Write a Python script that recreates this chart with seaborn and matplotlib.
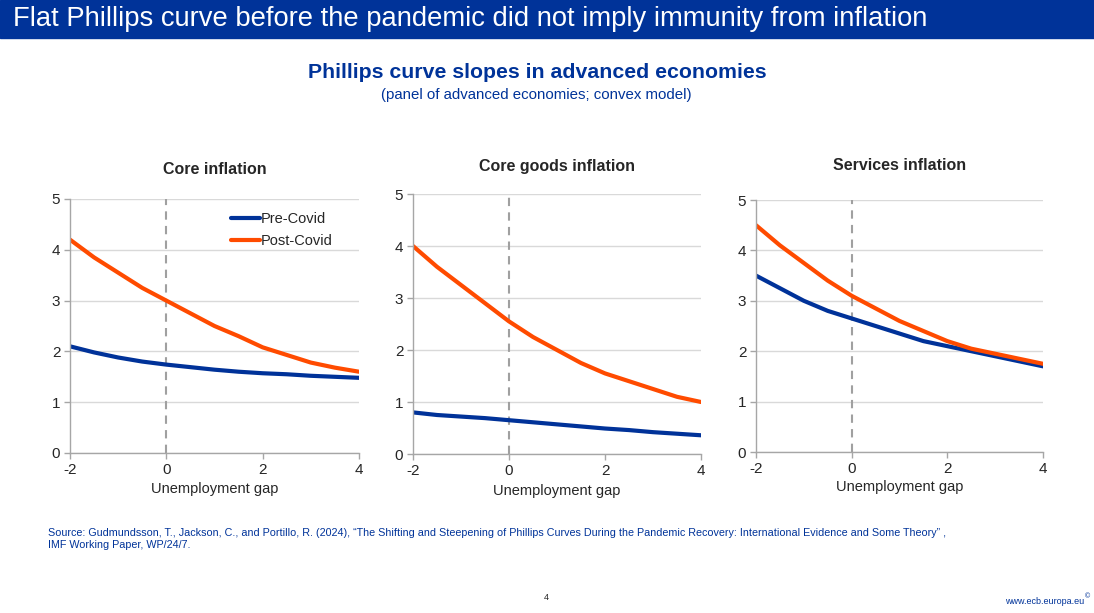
import numpy as np
import pandas as pd
import matplotlib
matplotlib.use("Agg")
import matplotlib.pyplot as plt
import seaborn as sns

# unemployment gap grid
gap = [-2, -1.5, -1, -0.5, 0, 0.5, 1, 1.5, 2, 2.5, 3, 3.5, 4]

# values
core_pre = [2.10, 1.98, 1.88, 1.80, 1.74, 1.69, 1.64, 1.60, 1.57, 1.55, 1.52, 1.50, 1.48]
core_post = [4.20, 3.85, 3.55, 3.25, 3.00, 2.75, 2.50, 2.30, 2.08, 1.93, 1.78, 1.68, 1.60]
goods_pre = [0.80, 0.75, 0.72, 0.69, 0.65, 0.61, 0.57, 0.53, 0.49, 0.46, 0.42, 0.39, 0.36]
goods_post = [4.00, 3.60, 3.25, 2.90, 2.55, 2.25, 2.00, 1.75, 1.55, 1.40, 1.25, 1.10, 1.00]
serv_pre = [3.50, 3.25, 3.00, 2.80, 2.65, 2.50, 2.35, 2.20, 2.10, 2.00, 1.90, 1.80, 1.70]
serv_post = [4.50, 4.10, 3.75, 3.40, 3.10, 2.85, 2.60, 2.40, 2.20, 2.05, 1.95, 1.85, 1.75]

panel_titles = ["Core inflation", "Core goods inflation", "Services inflation"]
series_names = ["Pre-Covid", "Post-Covid"]

BLUE = "#003299"
ORANGE = "#FF4B00"
BAR = "#003399"

sns.set_theme(style="white")
plt.rcParams['font.family'] = ['Liberation Sans', 'DejaVu Sans']
plt.rcParams['axes.unicode_minus'] = False

fig = plt.figure(figsize=(10.94, 6.13), dpi=100)

# title bar
fig.patches.append(plt.Rectangle((0, 1 - 38 / 613), 1, 38 / 613, transform=fig.transFigure,
                                 color=BAR, zorder=0))
fig.text(0.012, 1 - 19 / 613, "Flat Phillips curve before the pandemic did not imply immunity from inflation",
         color="white", fontsize=19.7, va="center", ha="left")

fig.text(537 / 1094, 1 - 73 / 613, "Phillips curve slopes in advanced economies", color=BAR,
         fontsize=15.3, fontweight="bold", ha="center", va="center")
fig.text(536 / 1094, 1 - 95 / 613, "(panel of advanced economies; convex model)", color=BAR,
         fontsize=10.8, ha="center", va="center")

# axes boxes in pixels: left, right, top (y=5), bottom (y=0), title y, xlabel y
boxes = [(70, 359, 199, 453, 169, 489),
         (413, 701, 194, 454, 166, 491),
         (756, 1043, 200, 452, 166, 487)]
data = [(core_pre, core_post), (goods_pre, goods_post), (serv_pre, serv_post)]

W, H = 1094, 613
for i, ((l, r, t, b, ty, xy), (pre, post)) in enumerate(zip(boxes, data)):
    ax = fig.add_axes([l / W, 1 - b / H, (r - l) / W, (b - t) / H])
    df = pd.DataFrame({
        "gap": gap * 2,
        "value": pre + post,
        "series": [series_names[0]] * len(gap) + [series_names[1]] * len(gap),
    })
    sns.lineplot(data=df, x="gap", y="value", hue="series", palette=[BLUE, ORANGE],
                 linewidth=3, ax=ax, legend=(i == 0))
    ax.axvline(0, color="#A0A0A0", linestyle=(0, (4, 3)), linewidth=1.5, zorder=1)
    ax.set_xlim(-2, 4)
    ax.set_ylim(0, 5)
    ax.set_xticks([-2, 0, 2, 4])
    ax.set_yticks(range(6))
    ax.yaxis.grid(True, color="#D9D9D9", linewidth=1)
    ax.set_axisbelow(True)
    for s in ["top", "right"]:
        ax.spines[s].set_visible(False)
    for s in ["left", "bottom"]:
        ax.spines[s].set_color("#A6A6A6")
        ax.spines[s].set_linewidth(1)
    ax.tick_params(axis="both", length=4, width=1, color="#A6A6A6", labelsize=11,
                   labelcolor="#262626", direction="out", bottom=True, left=True, pad=3)
    ax.set_xlabel("")
    ax.set_ylabel("")
    fig.text((l + r) / 2 / W, 1 - ty / H, panel_titles[i], fontsize=11.5, fontweight="bold",
             color="#262626", ha="center", va="center")
    fig.text((l + r) / 2 / W, 1 - xy / H, "Unemployment gap", fontsize=10.5, color="#262626",
             ha="center", va="center")
    if i == 0:
        leg = ax.legend(loc="upper right", bbox_to_anchor=(0.955, 1.0), frameon=False,
                        fontsize=10.5, handlelength=2.0, handletextpad=0.05, labelspacing=0.55)
        for h in leg.get_lines():
            h.set_linewidth(3)

fig.text(48 / W, 1 - 533 / H,
         "Source: Gudmundsson, T., Jackson, C., and Portillo, R. (2024), \u201cThe Shifting and Steepening of "
         "Phillips Curves During the Pandemic Recovery: International Evidence and Some Theory\u201d ,",
         fontsize=7.75, color=BAR, ha="left", va="center")
fig.text(48 / W, 1 - 545 / H, "IMF Working Paper, WP/24/7.", fontsize=7.75, color=BAR,
         ha="left", va="center")
fig.text(546 / W, 1 - 598 / H, "4", fontsize=6.5, color="#262626", ha="center", va="center")
fig.text(1084 / W, 1 - 602 / H, "www.ecb.europa.eu", fontsize=6.5, color=BAR,
         ha="right", va="center")
fig.text(1085 / W, 1 - 597 / H, "\u00a9", fontsize=5, color=BAR, ha="left", va="center")

fig.savefig("out.png", dpi=100)
